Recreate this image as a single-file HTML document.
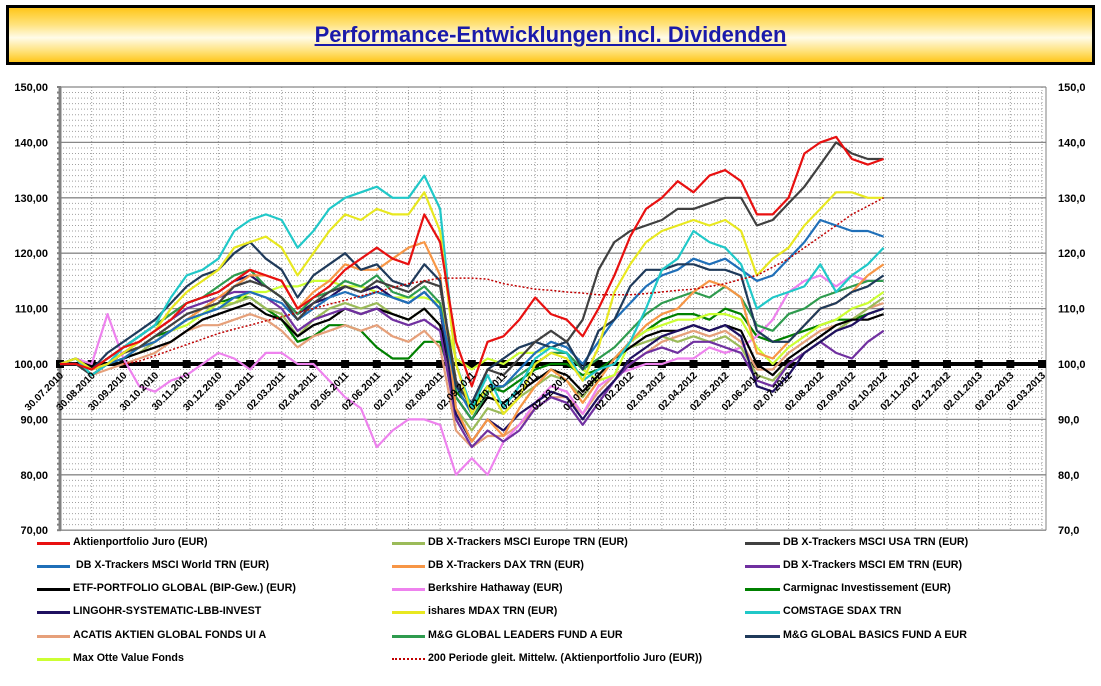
<!DOCTYPE html>
<html><head><meta charset="utf-8">
<style>
html,body{margin:0;padding:0;background:#fff;}
body{width:1101px;height:686px;position:relative;overflow:hidden;font-family:"Liberation Sans",sans-serif;}
#title-box{position:absolute;left:6px;top:5px;width:1083px;height:54px;border:3px solid #000;
 background:linear-gradient(to bottom,#ffc61a 0%,#ffe27a 30%,#fffbe8 55%,#ffe27a 80%,#ffc61a 100%);}
#title{position:absolute;left:0;right:0;top:14px;text-align:center;color:#1a1aaa;font-weight:bold;font-size:22px;text-decoration:underline;}
svg{position:absolute;left:0;top:0;}
.leg{position:absolute;font-weight:bold;font-size:11px;white-space:nowrap;transform:scaleX(0.97);transform-origin:left center;color:#000;}
.lline{position:absolute;height:3px;}
</style></head>
<body>
<div id="title-box"><div id="title">Performance-Entwicklungen incl. Dividenden</div></div>
<svg id="chart" width="1101" height="686"></svg>
<div id="legend"></div>
<script>
// Data: half-month sampling, index k => t = k/2 months after 30.07.2010
const seriesNames = ["Aktienportfolio Juro (EUR)","DB X-Trackers MSCI Europe TRN (EUR)","DB X-Trackers MSCI USA TRN (EUR)","DB X-Trackers MSCI World TRN (EUR)","DB X-Trackers DAX TRN (EUR)","DB X-Trackers  MSCI EM TRN (EUR)","ETF-PORTFOLIO GLOBAL (BIP-Gew.) (EUR)","Berkshire Hathaway (EUR)","Carmignac Investissement (EUR)","LINGOHR-SYSTEMATIC-LBB-INVEST","ishares MDAX TRN (EUR)","COMSTAGE SDAX TRN","ACATIS AKTIEN GLOBAL FONDS UI A","M&G GLOBAL LEADERS FUND A EUR","M&G GLOBAL BASICS FUND A EUR","Max Otte Value Fonds","200 Periode gleit. Mittelw. (Aktienportfolio Juro (EUR))"];
const seriesColors = ["#e81010","#9bbb59","#404040","#1f6fb8","#f79646","#7030a0","#000000","#ee82ee","#008000","#1f1060","#e8e820","#20c8c8","#e6a07a","#2e9b4e","#1f3a5a","#ccff33","#c00000"];
const juro = [100,100,99,101,103,104,106,108,111,112,113,115,117,116,115,110,112,114,117,119,121,119,118,127,122,104,96,104,105,108,112,109,108,105,110,116,123,128,130,133,131,134,135,133,127,127,130,138,140,141,137,136,137];
const europe = [100,100,98,100,101,102,104,106,108,109,110,111,112,110,109,105,108,110,111,110,111,109,108,110,107,92,88,92,91,94,96,98,97,94,98,101,103,104,105,104,105,104,105,103,98,97,100,102,104,106,108,110,112];
const usa = [100,100,98,100,102,103,105,107,109,110,111,114,115,114,112,108,111,113,114,113,115,114,113,115,114,97,92,99,98,101,104,106,104,108,117,122,124,125,126,128,128,129,130,130,125,126,129,132,136,140,138,137,137];
const world = [100,100,98,100,101,103,104,106,108,109,110,112,113,112,111,108,110,112,113,112,113,112,111,113,110,96,91,96,96,99,102,104,103,100,104,108,111,114,116,117,119,118,119,117,115,116,119,122,126,125,124,124,123];
const dax = [100,101,98,100,102,103,104,106,108,110,112,114,116,116,115,110,113,115,118,117,117,119,121,122,116,92,86,90,87,92,96,99,97,93,97,101,104,107,109,110,113,115,114,112,102,101,104,107,110,111,113,116,118];
const em = [100,100,99,100,102,104,106,108,110,111,112,113,113,112,110,106,108,109,110,109,110,108,107,108,106,90,85,88,86,88,92,94,93,89,93,97,100,102,103,102,104,104,103,102,97,96,100,102,104,102,101,104,106];
const etf = [100,100,99,100,101,102,103,104,106,108,109,110,111,109,108,105,107,108,110,109,110,109,108,110,107,94,90,94,93,95,97,99,98,95,98,101,103,105,106,106,107,106,107,106,100,98,101,103,105,107,108,108,109];
const berkshire = [100,101,100,109,101,96,95,97,98,100,102,101,99,102,102,100,100,97,94,92,85,88,90,90,89,80,83,80,86,89,93,96,95,91,96,98,99,100,100,101,101,103,102,103,105,108,113,115,116,114,116,115,115];
const carmignac = [100,100,99,100,102,103,105,106,108,109,111,112,112,110,108,104,105,107,107,106,103,101,101,104,104,95,92,96,95,97,99,100,100,98,99,101,104,106,108,109,109,108,110,109,105,104,105,106,107,108,108,109,110];
const lingohr = [100,100,99,101,103,105,107,109,111,112,113,115,116,114,112,109,111,112,114,113,114,112,111,113,110,91,86,90,88,91,93,95,94,90,94,97,101,103,105,106,107,106,107,105,96,95,98,102,104,106,107,109,110];
const mdax = [100,101,99,100,102,104,106,110,113,115,117,121,122,123,121,116,120,124,127,126,128,127,127,131,124,100,91,96,91,94,100,102,101,97,103,113,118,122,124,125,126,125,126,124,116,119,121,125,128,131,131,130,130];
const sdax = [100,101,98,100,103,105,107,112,116,117,119,124,126,127,126,121,124,128,130,131,132,130,130,134,128,100,92,98,92,96,101,103,102,97,99,100,104,110,117,119,124,122,121,118,110,112,113,114,118,113,116,118,121];
const acatis = [100,100,98,99,100,101,102,104,106,107,107,108,109,108,106,103,105,106,107,106,107,105,104,106,103,88,85,87,87,89,92,94,94,91,95,98,100,102,104,105,106,105,106,104,99,99,102,104,106,107,108,110,111];
const leaders = [100,101,99,101,103,105,107,109,111,112,114,116,117,114,112,109,112,113,115,114,116,113,112,114,111,94,90,95,96,98,100,102,102,99,101,103,106,109,111,112,113,112,114,112,107,106,109,110,112,113,114,115,115];
const basics = [100,101,99,102,104,106,108,111,114,116,117,120,122,119,117,112,116,118,120,117,118,115,114,118,115,96,93,99,101,103,104,103,104,99,106,108,114,117,117,118,118,117,117,116,106,104,104,107,110,111,113,114,116];
const maxotte = [100,101,99,100,101,103,104,106,107,109,111,111,113,113,114,114,115,115,114,114,113,112,112,112,111,101,99,101,100,102,102,103,102,99,97,98,104,106,107,108,108,109,109,108,103,100,103,105,107,108,110,111,113];
const movingAvg = [null,null,null,null,100,100.5,101.5,102.5,103.5,104.5,105.5,106.3,107,107.8,108.5,109.3,110,110.8,111.5,112.3,113,113.8,114.5,115,115.5,115.5,115.5,115.3,114.5,114,113.5,113.3,113,112.8,112.5,112.5,112.5,112.7,113,113.3,113.5,114,114.5,115.3,116,117.5,119,121,123,125,127,128.5,130];
const allSeries = [juro,europe,usa,world,dax,em,etf,berkshire,carmignac,lingohr,mdax,sdax,acatis,leaders,basics,maxotte,movingAvg];
const drawOrder = [8,12,7,15,1,6,5,9,13,4,3,14,2,11,10,0,16];
const monthLabels = ["30.07.2010","30.08.2010","30.09.2010","30.10.2010","30.11.2010","30.12.2010","30.01.2011","02.03.2011","02.04.2011","02.05.2011","02.06.2011","02.07.2011","02.08.2011","02.09.2011","02.10.2011","02.11.2011","02.12.2011","02.01.2012","02.02.2012","02.03.2012","02.04.2012","02.05.2012","02.06.2012","02.07.2012","02.08.2012","02.09.2012","02.10.2012","02.11.2012","02.12.2012","02.01.2013","02.02.2013","02.03.2013"];
const yTicks = [70,80,90,100,110,120,130,140,150];

const NS="http://www.w3.org/2000/svg";
const svg=document.getElementById('chart');
const X0=60,X1=1042,Y0=364,PX=5.54;
const monthW=(X1-X0)/(monthLabels.length-1);
function xm(i){return X0+i*monthW;}
function xk(k){return X0+(k/2)*monthW;}
function yv(v){return Y0-(v-100)*PX;}
function mk(tag,attrs){const e=document.createElementNS(NS,tag);for(const a in attrs)e.setAttribute(a,attrs[a]);svg.appendChild(e);return e;}

for(let v=71;v<150;v++){ if(v%10===0) continue;
  const l=mk('line',{x1:X0,x2:X1,y1:yv(v),y2:yv(v),stroke:'#a0a0a0','stroke-width':1,'stroke-dasharray':'1,2'});
  
  
}
monthLabels.forEach((m,i)=>{ if(i===0) return;
  const l=mk('line',{x1:xm(i),x2:xm(i),y1:yv(150),y2:yv(70),stroke:'#a0a0a0','stroke-width':1,'stroke-dasharray':'1,2'});
  
  
});
yTicks.forEach(v=>{
  const l=mk('line',{x1:X0,x2:X1+4,y1:yv(v),y2:yv(v),stroke:'#888','stroke-width':1.3});
  
  
  const t=mk('text',{x:48,y:yv(v)+4,'text-anchor':'end','font-size':11,'font-weight':'bold','font-family':'Liberation Sans, sans-serif'});
  t.textContent=v.toFixed(2).replace('.',',');
  
  
  const r=mk('text',{x:1058,y:yv(v)+4,'font-size':11,'font-weight':'bold','font-family':'Liberation Sans, sans-serif'});
  r.textContent=v.toFixed(1).replace('.',',');
  
  
});
const ax=mk('line',{x1:X0,x2:X0,y1:yv(150),y2:yv(70),stroke:'#808080','stroke-width':3});


for(let v=70;v<=150;v++){
  const tk=mk('line',{x1:X0-3,x2:X0+1,y1:yv(v),y2:yv(v),stroke:'#808080','stroke-width':2});
  
  
}
const axr=mk('line',{x1:X1+4,x2:X1+4,y1:yv(150),y2:yv(70),stroke:'#808080','stroke-width':1});



const base=mk('line',{x1:X0,x2:X1,y1:yv(100),y2:yv(100),stroke:'#000','stroke-width':4});


monthLabels.forEach((m,i)=>{
  const s=mk('rect',{x:xm(i)-4,y:yv(100)-4,width:8,height:8,fill:'#000'});
  
  
});

drawOrder.forEach(si=>{
  const d=allSeries[si];const pts=[];
  d.forEach((v,k)=>{ if(v!==null) pts.push(xk(k).toFixed(1)+','+yv(v).toFixed(1)); });
  const attrs={points:pts.join(' '),fill:'none',stroke:seriesColors[si],'stroke-width':si===16?1.5:2.2,'stroke-linejoin':'round'};
  if(si===16) attrs['stroke-dasharray']='2,2';
  const p=mk('polyline',attrs);
  
  
});

monthLabels.forEach((m,i)=>{
  const x=xm(i)+4,y=376;
  const t=mk('text',{x:x,y:y,'text-anchor':'end','font-size':10,'font-weight':'bold','font-family':'Liberation Sans, sans-serif',transform:`rotate(-45 ${x} ${y})`});
  t.textContent=m;
  
  
});

const leg=document.getElementById('legend');
const rowsY=[543,566,589,612,636,659];
const colX=[[37,73],[392,428],[745,783]];
seriesNames.forEach((n,i)=>{
  const r=Math.floor(i/3),c=i%3;
  const ln=document.createElement('div');
  ln.className='lline';
  
  
  ln.style.left=colX[c][0]+'px';ln.style.top=(rowsY[r]-1)+'px';ln.style.width=(colX[c][1]-colX[c][0]-3)+'px';
  if(i===16){ln.style.background='none';ln.style.borderTop='2px dotted '+seriesColors[i];ln.style.height='0';}
  else ln.style.background=seriesColors[i];
  leg.appendChild(ln);
  const tx=document.createElement('div');
  tx.className='leg';
  
  
  tx.style.left=(colX[c][1]+(i===3?3:0))+'px';tx.style.top=(rowsY[r]-7)+'px';
  tx.textContent=n;
  leg.appendChild(tx);
});
</script>
</body></html>
